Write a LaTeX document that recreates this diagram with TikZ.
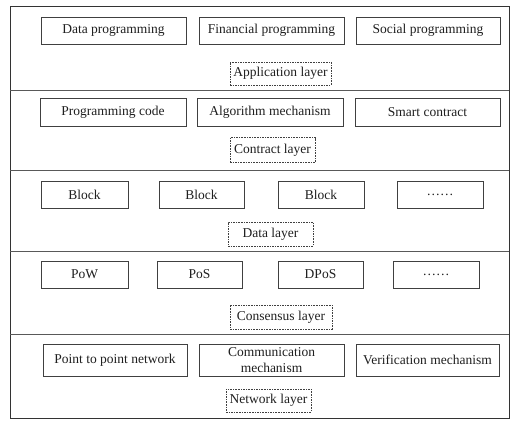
\documentclass[tikz,border=0pt]{standalone}
\usepackage{fontspec}
\setmainfont{Liberation Serif}
\begin{document}
\begin{tikzpicture}[x=1pt,y=-1pt,
  every node/.style={font=\fontsize{13.5}{15.5}\selectfont, text=black!88, inner sep=0pt, outer sep=0pt},
  item/.style={draw=black!75, line width=0.9pt, fill=white, minimum height=27pt},
  tallitem/.style={item, minimum height=32pt, align=center},
  layerlabel/.style={draw=black!75, line width=0.7pt, dash pattern=on 1.6pt off 1pt, minimum height=23pt},
  frame/.style={draw=black!80, line width=0.9pt},
  divider/.style={draw=black!65, line width=1pt}]
\useasboundingbox (0,0) rectangle (516,420);

% outer frame and layer dividers
\draw[frame] (10,6) rectangle (509,418);
\coordinate (d1l) at (10,90);  \coordinate (d1r) at (509,90);
\coordinate (d2l) at (10,170); \coordinate (d2r) at (509,170);
\coordinate (d3l) at (10,251); \coordinate (d3r) at (509,251);
\coordinate (d4l) at (10,334); \coordinate (d4r) at (509,334);
\draw[divider] (d1l) -- (d1r);
\draw[divider] (d2l) -- (d2r);
\draw[divider] (d3l) -- (d3r);
\draw[divider] (d4l) -- (d4r);

% application layer
\node[item, minimum width=145pt] (dp) at (113.5,30.5) {Data programming};
\node[item, minimum width=145pt] (fp) at (271.5,30.5) {Financial programming};
\node[item, minimum width=144pt] (sp) at (428,30.5) {Social programming};
\node[layerlabel, minimum width=101pt] (app) at (280.5,73.5) {Application layer};

% contract layer
\node[item, minimum width=146pt, minimum height=28pt] (pc) at (113,112) {Programming code};
\node[item, minimum width=146pt, minimum height=28pt] (am) at (270,112) {Algorithm mechanism};
\node[item, minimum width=145pt, minimum height=28pt] (sc) at (427.5,112) {Smart contract};
\node[layerlabel, minimum width=85pt, minimum height=25pt] (con) at (272.5,150) {Contract layer};

% data layer
\node[item, minimum width=87pt] (b1) at (84.5,194.5) {Block};
\node[item, minimum width=85pt] (b2) at (201.5,194.5) {Block};
\node[item, minimum width=86pt] (b3) at (321,194.5) {Block};
\node[item, minimum width=86pt] (b4) at (440,194.5) {……};
\node[layerlabel, minimum width=85pt, minimum height=24pt] (dat) at (270.5,234) {Data layer};

% consensus layer
\node[item, minimum width=87pt] (pow) at (84.5,274.5) {PoW};
\node[item, minimum width=85pt] (pos) at (199.5,274.5) {PoS};
\node[item, minimum width=85pt] (dpos) at (320.5,274.5) {DPoS};
\node[item, minimum width=86pt] (cx) at (436,274.5) {……};
\node[layerlabel, minimum width=102pt, minimum height=24pt] (cns) at (281,317) {Consensus layer};

% network layer
\node[tallitem, minimum width=144pt] (p2p) at (115,360) {Point to point network};
\node[tallitem, minimum width=145pt] (cm) at (271.5,360) {Communication\\mechanism};
\node[tallitem, minimum width=143pt] (vm) at (427.5,360) {Verification mechanism};
\node[layerlabel, minimum width=85pt] (net) at (268.5,400.5) {Network layer};
\end{tikzpicture}
\end{document}
